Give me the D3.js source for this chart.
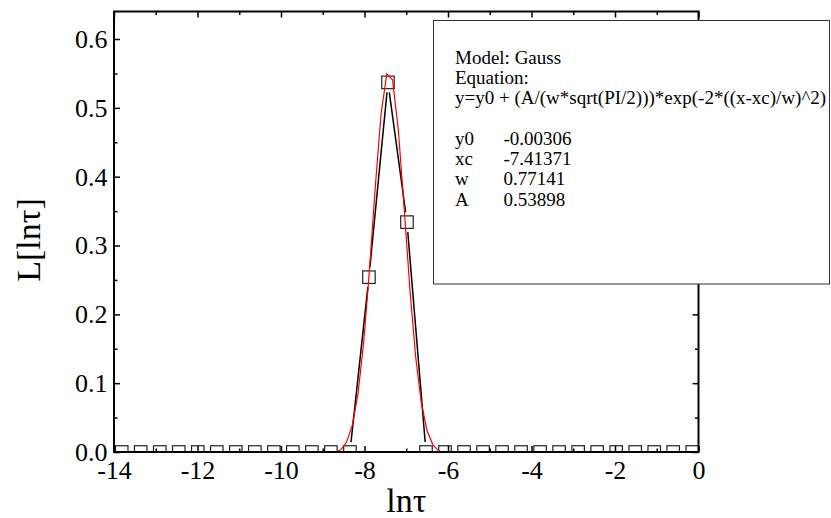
<!DOCTYPE html>
<html>
<head>
<meta charset="utf-8">
<script src="https://cdn.jsdelivr.net/npm/d3@7"></script>
<style>
  html, body { margin: 0; padding: 0; background: #fff; }
  svg { display: block; }
  svg text { font-family: "Liberation Serif", "Times New Roman", serif !important; fill: #000; }
</style>
</head>
<body>
<svg id="chart" width="831" height="518"></svg>
<script>
// Distribution L[ln τ] sampled on a log grid of relaxation times
const lnTau = [
  -13.815, -13.360, -12.904, -12.449, -11.993, -11.538, -11.082, -10.627,
  -10.171, -9.716, -9.260, -8.805, -8.349, -7.894, -7.438, -6.983,
  -6.527, -6.072, -5.616, -5.161, -4.705, -4.250, -3.794, -3.339,
  -2.883, -2.428, -1.972, -1.517, -1.061, -0.606, -0.150
];
const L = [
  0, 0, 0, 0, 0, 0, 0, 0,
  0, 0, 0, 0, 0, 0.254, 0.537, 0.334,
  0, 0, 0, 0, 0, 0, 0, 0,
  0, 0, 0, 0, 0, 0, 0
];

// Gauss fit parameters
const paramNames = ["y0", "xc", "w", "A"];
const paramValues = [-0.00306, -7.41371, 0.77141, 0.53898];
const paramLabels = ["-0.00306", "-7.41371", "0.77141", "0.53898"];
const fitHeader = ["Model: Gauss", "Equation:", "y=y0 + (A/(w*sqrt(PI/2)))*exp(-2*((x-xc)/w)^2)"];

// Axis ticks
const xMajorTicks = [-14, -12, -10, -8, -6, -4, -2, 0];
const xMinorTicks = [-13, -11, -9, -7, -5, -3, -1];
const yMajorTicks = [0.0, 0.1, 0.2, 0.3, 0.4, 0.5, 0.6];
const yMinorTicks = [0.05, 0.15, 0.25, 0.35, 0.45, 0.55];
const xDomain = [-14, 0];
const yDomain = [0, 0.64];

const svg = d3.select("#chart");
const plot = { left: 114, right: 698.5, top: 11.5, bottom: 452 };

const x = d3.scaleLinear().domain(xDomain).range([plot.left, plot.right]);
const y = d3.scaleLinear().domain(yDomain).range([plot.bottom, plot.top]);

svg.append("defs").append("clipPath").attr("id", "plotClip")
  .append("rect")
  .attr("x", plot.left).attr("y", plot.top)
  .attr("width", plot.right - plot.left).attr("height", plot.bottom - plot.top);

const data = lnTau.map((v, i) => ({ x: v, y: L[i] }));
const g = svg.append("g").attr("clip-path", "url(#plotClip)");

// Connecting line, broken around each symbol
const gap = 10;
for (let i = 0; i < data.length - 1; i++) {
  const x1 = x(data[i].x), y1 = y(data[i].y);
  const x2 = x(data[i + 1].x), y2 = y(data[i + 1].y);
  const len = Math.hypot(x2 - x1, y2 - y1);
  if (len <= 2 * gap) continue;
  const ux = (x2 - x1) / len, uy = (y2 - y1) / len;
  g.append("line")
    .attr("x1", x1 + ux * gap).attr("y1", y1 + uy * gap)
    .attr("x2", x2 - ux * gap).attr("y2", y2 - uy * gap)
    .attr("stroke", "#000").attr("stroke-width", 1.5);
}

// Open square symbols
const s = 12.5;
g.selectAll("rect.pt").data(data).enter().append("rect")
  .attr("class", "pt")
  .attr("x", d => x(d.x) - s / 2).attr("y", d => y(d.y) - s / 2)
  .attr("width", s).attr("height", s)
  .attr("fill", "none").attr("stroke", "#222").attr("stroke-width", 1.2);

// Fitted Gauss curve evaluated over the data range
const [y0, xc, w, A] = paramValues;
const gauss = t => y0 + (A / (w * Math.sqrt(Math.PI / 2))) * Math.exp(-2 * Math.pow((t - xc) / w, 2));
const xr = d3.extent(lnTau);
const fitPts = d3.range(0, 100).map(i => {
  const t = xr[0] + (xr[1] - xr[0]) * i / 99;
  return [t, gauss(t)];
});
g.append("path")
  .attr("d", d3.line().x(d => x(d[0])).y(d => y(d[1]))(fitPts))
  .attr("fill", "none").attr("stroke", "#ff0000").attr("stroke-width", 1.2);

// Axes: ticks point inward on all four sides
const labelFont = 26;
function styleAxis(sel) {
  sel.attr("font-family", null).attr("font-size", null);
  sel.select(".domain").remove();
  sel.selectAll(".tick line").attr("stroke", "#000").attr("stroke-width", 1.5);
  sel.selectAll(".tick text").style("font-size", labelFont + "px");
}
const fmtX = d => d3.format("d")(d).replace("\u2212", "-");
const fmtY = d => d3.format(".1f")(d);

svg.append("g").attr("transform", `translate(0,${plot.bottom})`)
  .call(d3.axisBottom(x).tickValues(xMajorTicks).tickSize(-6).tickPadding(8.5).tickFormat(fmtX))
  .call(styleAxis);
svg.append("g").attr("transform", `translate(0,${plot.bottom})`)
  .call(d3.axisBottom(x).tickValues(xMinorTicks).tickSize(-3.5).tickFormat(""))
  .call(styleAxis);
svg.append("g").attr("transform", `translate(0,${plot.top})`)
  .call(d3.axisTop(x).tickValues(xMajorTicks).tickSize(-6).tickFormat(""))
  .call(styleAxis);
svg.append("g").attr("transform", `translate(0,${plot.top})`)
  .call(d3.axisTop(x).tickValues(xMinorTicks).tickSize(-3.5).tickFormat(""))
  .call(styleAxis);
svg.append("g").attr("transform", `translate(${plot.left},0)`)
  .call(d3.axisLeft(y).tickValues(yMajorTicks).tickSize(-6).tickPadding(6.5).tickFormat(fmtY))
  .call(styleAxis);
svg.append("g").attr("transform", `translate(${plot.left},0)`)
  .call(d3.axisLeft(y).tickValues(yMinorTicks).tickSize(-3.5).tickFormat(""))
  .call(styleAxis);
svg.append("g").attr("transform", `translate(${plot.right},0)`)
  .call(d3.axisRight(y).tickValues(yMajorTicks).tickSize(-6).tickFormat(""))
  .call(styleAxis);
svg.append("g").attr("transform", `translate(${plot.right},0)`)
  .call(d3.axisRight(y).tickValues(yMinorTicks).tickSize(-3.5).tickFormat(""))
  .call(styleAxis);

// Plot frame
svg.append("rect")
  .attr("x", plot.left).attr("y", plot.top)
  .attr("width", plot.right - plot.left).attr("height", plot.bottom - plot.top)
  .attr("fill", "none").attr("stroke", "#000").attr("stroke-width", 2);

// Axis titles
svg.append("text")
  .attr("x", (plot.left + plot.right) / 2).attr("y", 512)
  .attr("text-anchor", "middle").style("font-size", "34px")
  .text("ln\u03C4");
svg.append("text")
  .attr("transform", `translate(40,${240}) rotate(-90)`)
  .attr("text-anchor", "middle").style("font-size", "34px")
  .text("L[ln\u03C4]");

// Fit report box
const box = svg.append("g");
box.append("rect")
  .attr("x", 433.5).attr("y", 20.5).attr("width", 396).attr("height", 263.5)
  .attr("fill", "#fff").attr("stroke", "#333").attr("stroke-width", 1);
const textX = 455, valX = 503.5, lineH = 20.3, firstBase = 63.5, boxFont = 19;
fitHeader.forEach((t, i) => {
  box.append("text").attr("x", textX).attr("y", firstBase + i * lineH)
    .style("font-size", boxFont + "px").text(t);
});
paramNames.forEach((n, i) => {
  const yy = firstBase + (i + 4) * lineH;
  box.append("text").attr("x", textX).attr("y", yy).style("font-size", boxFont + "px").text(n);
  box.append("text").attr("x", valX).attr("y", yy).style("font-size", boxFont + "px").text(paramLabels[i]);
});
</script>
</body>
</html>
